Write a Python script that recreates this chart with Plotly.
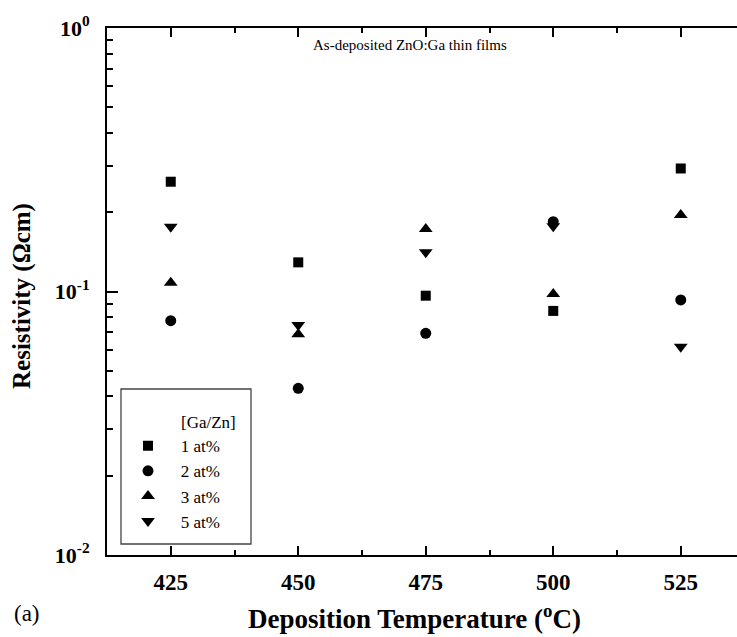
import plotly.graph_objects as go

# Deposition temperatures (°C) and resistivity (Ω·cm) for each Ga/Zn ratio
temperature = [425, 450, 475, 500, 525]
rho_1at = [0.261, 0.129, 0.0964, 0.0844, 0.293]
rho_2at = [0.0775, 0.0429, 0.0694, 0.184, 0.0929]
rho_3at = [0.108, 0.0688, 0.1726, 0.0979, 0.195]
rho_5at = [0.176, 0.0746, 0.141, 0.177, 0.0617]

series_names = ["1 at%", "2 at%", "3 at%", "5 at%"]
series_values = [rho_1at, rho_2at, rho_3at, rho_5at]
series_symbols = ["square", "circle", "triangle-up", "triangle-down"]
series_sizes = [10, 11, 12, 12]

x_ticks = [425, 450, 475, 500, 525]
x_minor = [437.5, 462.5, 487.5, 512.5]
y_ticks = [0.01, 0.1, 1]
y_ticktext = ["10<sup>-2</sup>", "10<sup>-1</sup>", "10<sup>0</sup>"]
y_minor = [m * d for d in (0.01, 0.1) for m in range(2, 10)]

SERIF = "Liberation Serif, Times New Roman, serif"

fig = go.Figure()
for i, (name, vals, sym, sz) in enumerate(zip(series_names, series_values, series_symbols, series_sizes)):
    fig.add_trace(go.Scatter(
        x=temperature, y=vals, mode="markers", name="   " + name,
        legendgroup=f"g{i}",
        marker=dict(symbol=sym, size=sz, color="black", line=dict(width=0)),
    ))

W, H = 737, 637
L, R, T, B = 107, 0, 28, 82
pw, ph = W - L - R, H - T - B

def px_x(p):
    return (p - L) / pw

def px_y(p):
    return (H - B - p) / ph

fig.update_layout(
    width=W, height=H,
    margin=dict(l=L, r=R, t=T, b=B),
    plot_bgcolor="white", paper_bgcolor="white",
    font=dict(family=SERIF, color="black"),
    showlegend=True,
    legend=dict(
        x=px_x(128), y=px_y(384), xanchor="left", yanchor="top",
        bgcolor="rgba(0,0,0,0)", borderwidth=0,
        font=dict(family=SERIF, size=17, color="black"),
        title=dict(text="<br>            [Ga/Zn]", font=dict(family=SERIF, size=17)),
        tracegroupgap=0,
    ),
    xaxis=dict(
        range=[412.5, 412.5 + pw / 127.5 * 25],
        tickmode="array", tickvals=x_ticks,
        ticks="inside", ticklen=9, tickwidth=1.5, tickcolor="black",
        showline=True, linecolor="black", linewidth=1.8, mirror="allticks",
        showgrid=False, zeroline=False,
        tickfont=dict(family=SERIF, size=23, color="black", weight="bold"),
        ticklabelstandoff=5,
        minor=dict(tickmode="array", tickvals=x_minor, ticks="inside",
                   ticklen=5, tickwidth=1.5, tickcolor="black", showgrid=False),
    ),
    yaxis=dict(
        type="log", range=[-2, 0],
        tickmode="array", tickvals=y_ticks, ticktext=y_ticktext,
        ticks="inside", ticklen=11, tickwidth=1.5, tickcolor="black",
        showline=True, linecolor="black", linewidth=2, mirror=False,
        showgrid=False, zeroline=False,
        tickfont=dict(family=SERIF, size=22, color="black", weight="bold"),
        ticklabelstandoff=11,
        minor=dict(tickmode="array", tickvals=y_minor, ticks="inside",
                   ticklen=6, tickwidth=1.5, tickcolor="black", showgrid=False),
    ),
    shapes=[dict(
        type="rect", xref="paper", yref="paper",
        x0=px_x(121), x1=px_x(251), y0=px_y(544), y1=px_y(389),
        line=dict(color="#444", width=1.3), fillcolor="rgba(0,0,0,0)",
    )],
    annotations=[
        dict(text="As-deposited ZnO:Ga thin films", xref="paper", yref="paper",
             x=px_x(410), y=px_y(45), xanchor="center", yanchor="middle", showarrow=False,
             font=dict(family=SERIF, size=15, color="black")),
        dict(text="<b>Deposition Temperature (<sup>o</sup>C)</b>", xref="paper", yref="paper",
             x=px_x(414), y=px_y(617), xanchor="center", yanchor="middle", showarrow=False,
             font=dict(family=SERIF, size=27, color="black")),
        dict(text="<b>Resistivity (Ωcm)</b>", xref="paper", yref="paper", textangle=-90,
             x=px_x(22), y=px_y(296), xanchor="center", yanchor="middle", showarrow=False,
             font=dict(family=SERIF, size=25, color="black")),
        dict(text="(a)", xref="paper", yref="paper",
             x=px_x(27), y=px_y(613), xanchor="center", yanchor="middle", showarrow=False,
             font=dict(family=SERIF, size=23, color="black")),
    ],
)

fig.write_html("out.html")
